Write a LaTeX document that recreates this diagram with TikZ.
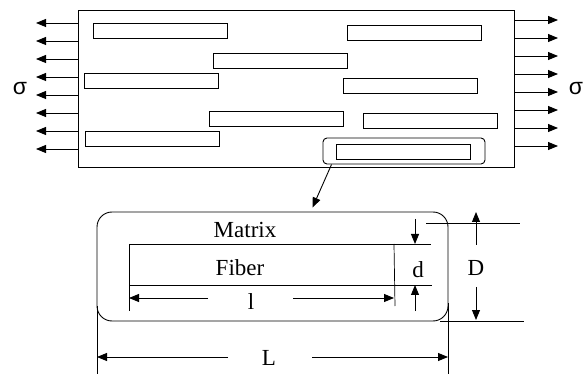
\documentclass[tikz,border=0pt]{standalone}
\usepackage{fontspec}
\setmainfont{Liberation Serif}
\newfontfamily\sigmafont{Liberation Sans}
\usetikzlibrary{arrows.meta,positioning}

\begin{document}
\begin{tikzpicture}[x=1pt, y=-1pt, line width=0.9pt, font=\fontsize{23}{26}\selectfont]
    % Define styles
    \tikzstyle{fiber} = [rectangle, draw, minimum width=134pt, minimum height=15pt, inner sep=0pt]
    \tikzstyle{line} = [draw, -{Triangle[length=10pt,width=8pt]}]
    \tikzstyle{thin} = [draw, line width=0.7pt]
    \tikzstyle{dimtext} = [inner sep=1pt]

    \useasboundingbox (0,0) rectangle (584,374);

    % Place nodes
    \node [rectangle, draw, minimum width=436pt, minimum height=157pt] (panel) at (296,88.5) {};
    \foreach \n/\x/\y in {1/160/30.5, 2/280/60.5, 3/151.5/80.5, 4/276/118.5, 5/152.5/138.5,
                          6/414/32.5, 7/410.5/85.5, 8/430/120.5, 9/403/151.5}
        \node [fiber] (f\n) at (\x,\y) {};
    \node [draw, rounded corners=4pt, minimum width=162pt, minimum height=26pt] (zoombox) at (404,151) {};
    \node [font=\sigmafont\fontsize{23}{26}\selectfont] (sigl) at (20,89) {σ};
    \node [font=\sigmafont\fontsize{23}{26}\selectfont] (sigr) at (576,89) {σ};

    \node [draw, rounded corners=15pt, minimum width=351pt, minimum height=109pt] (cell) at (272.5,266.5) {};
    \node [dimtext] (matrix) at (245,230) {Matrix};
    \node [dimtext] (fibertxt) at (240,268) {Fiber};
    \node [dimtext] (ltxt) at (251,302) {l};
    \node [dimtext] (dtxt) at (418,270) {d};
    \node [dimtext] (Dtxt) at (476,268) {D};
    \node [dimtext] (Ltxt) at (269,358) {L};

    % Coordinates
    \coordinate (fl) at (129,298);
    \coordinate (fr) at (394,298);
    \coordinate (dtop) at (415,244);
    \coordinate (dbot) at (415,285);
    \coordinate (Dtop) at (476,212);
    \coordinate (Dbot) at (476,320);
    \coordinate (Lleft) at (97,357);
    \coordinate (Lright) at (448,357);

    % Stress arrows
    \foreach \y in {23,41,...,149}
        \path [line] (78,\y) -- (36,\y);
    \foreach \y in {20,38,...,146}
        \path [line] (514,\y) -- (558,\y);

    % Fiber in the cell
    \path [thin] (129,244) -- (431,244);
    \path [thin] (129,285) -- (432,285);
    \path [thin] (129,244) -- (129,311);
    \path [thin] (394,244) -- (395,306);
    \path [thin] (426,223) -- (520,223);
    \path [thin] (440,321) -- (524,321);
    \path [thin] (97,306) -- (97,374);
    \path [thin] (448,303) -- (448,374);

    % Draw edges
    \path [line] ([xshift=9pt]zoombox.south west) -- ([xshift=40pt,yshift=4pt]cell.north);
    \path [line] (208,298) -- (fl);
    \path [line] (293,298) -- (fr);
    \path [line] (415,219) -- (dtop);
    \path [line] (415,311) -- (dbot);
    \path [line] (476,245) -- (Dtop);
    \path [line] (476,287) -- (Dbot);
    \path [line] (228,357) -- (Lleft);
    \path [line] (312,357) -- (Lright);
\end{tikzpicture}
\end{document}
